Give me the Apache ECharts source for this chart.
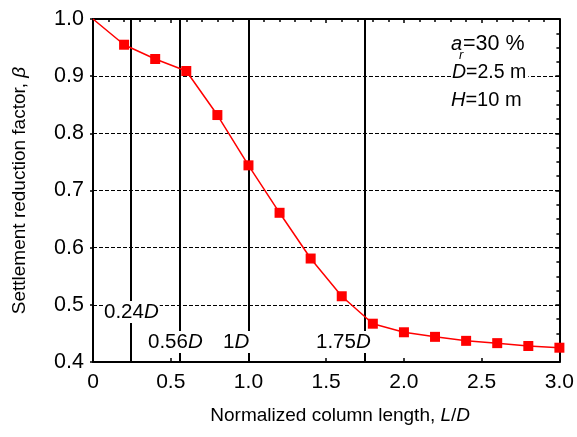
<!DOCTYPE html>
<html>
<head>
<meta charset="utf-8">
<script src="https://cdn.jsdelivr.net/npm/echarts@6/dist/echarts.min.js"></script>
<style>
html,body{margin:0;padding:0;background:#fff;}
#c{width:577px;height:437px;}
</style>
</head>
<body>
<div id="c"></div>
<script>
// ---- data ----
var xValues = [0, 0.2, 0.4, 0.6, 0.8, 1.0, 1.2, 1.4, 1.6, 1.8, 2.0, 2.2, 2.4, 2.6, 2.8, 3.0];
var betaValues = [1.0, 0.955, 0.930, 0.909, 0.832, 0.744, 0.661, 0.581, 0.515, 0.467, 0.452, 0.444, 0.437, 0.433, 0.428, 0.425];
var refLines = [0.24, 0.56, 1, 1.75];
var refLabels = ['0.24', '0.56', '1', '1.75'];
var xTicks = ['0', '0.5', '1.0', '1.5', '2.0', '2.5', '3.0'];
var yTicks = ['0.4', '0.5', '0.6', '0.7', '0.8', '0.9', '1.0'];
var paramText = { ar: '30 %', D: '2.5 m', H: '10 m' };

var FONT = 'Liberation Sans, Arial, sans-serif';
var chart = echarts.init(document.getElementById('c'), null, { renderer: 'canvas' });

var seriesData = xValues.map(function (x, i) {
  var item = { value: [x, betaValues[i]] };
  if (i === 0) item.symbol = 'none';
  return item;
});

// annotation label positions (pixels)
var refLabelPos = [[103, 312], [147, 342], [222, 342], [315, 342]];

var graphics = refLabels.map(function (t, i) {
  return {
    type: 'text', left: refLabelPos[i][0], top: refLabelPos[i][1] - 11, z: 100,
    style: {
      text: '{n|' + t + '}{i|D}',
      backgroundColor: '#fff',
      padding: [0, 1, 0, 1],
      rich: {
        n: { fontFamily: FONT, fontSize: 20.5, fill: '#000', lineHeight: 22 },
        i: { fontFamily: FONT, fontSize: 20.5, fontStyle: 'italic', fill: '#000', lineHeight: 22 }
      }
    }
  };
});

// parameter block
graphics.push(
  { type: 'text', left: 451, top: 34, z: 100, style: { text: 'a', font: 'italic 20px ' + FONT, fill: '#000', backgroundColor: '#fff' } },
  { type: 'text', left: 459, top: 49, z: 101, style: { text: 'r', font: 'italic 13px ' + FONT, fill: '#000' } },
  { type: 'text', left: 463, top: 33, z: 100, style: { text: '=' + paramText.ar, font: '21.5px ' + FONT, fill: '#000', backgroundColor: '#fff' } },
  { type: 'text', left: 451, top: 63, z: 100, style: {
      text: '{i|D}{n|=' + paramText.D + '}', backgroundColor: '#fff', padding: [0, 2, 0, 1],
      rich: { n: { fontFamily: FONT, fontSize: 19.5, fill: '#000' }, i: { fontFamily: FONT, fontSize: 19.5, fontStyle: 'italic', fill: '#000' } } } },
  { type: 'text', left: 451, top: 90, z: 100, style: {
      text: '{i|H}{n|=' + paramText.H + '}', backgroundColor: '#fff',
      rich: { n: { fontFamily: FONT, fontSize: 20, fill: '#000' }, i: { fontFamily: FONT, fontSize: 20, fontStyle: 'italic', fill: '#000' } } } }
);

var option = {
  animation: false,
  backgroundColor: '#fff',
  textStyle: { fontFamily: FONT },
  grid: { left: 93, top: 19, right: 14, bottom: 75 },
  xAxis: [{
    type: 'value', min: 0, max: 3, interval: 0.5, position: 'bottom',
    axisLine: { show: true, onZero: false, lineStyle: { color: '#000', width: 2 } },
    axisTick: { show: true, inside: true, length: 4, lineStyle: { color: '#000', width: 1.5 } },
    axisLabel: { color: '#000', fontSize: 21, fontFamily: FONT, margin: 10,
      formatter: function (v) { return xTicks[Math.round(v / 0.5)]; } },
    splitLine: { show: false },
    name: '{n|Normalized column length, }{i|L}{n|/}{i|D}',
    nameLocation: 'middle', nameGap: 44,
    nameTextStyle: { padding: [0, 0, 0, 28], rich: {
      n: { fontFamily: FONT, fontSize: 19, color: '#000' },
      i: { fontFamily: FONT, fontSize: 19, color: '#000', fontStyle: 'italic' } } }
  }, {
    type: 'value', min: 0, max: 3, interval: 0.5, position: 'top',
    axisLine: { show: true, onZero: false, lineStyle: { color: '#000', width: 2 } },
    axisTick: { show: true, inside: true, length: 4, lineStyle: { color: '#000', width: 1.5 } },
    minorTick: { show: true, splitNumber: 5, length: 3, lineStyle: { color: '#000', width: 1.5 } },
    axisLabel: { show: false }, splitLine: { show: false }
  }],
  yAxis: [{
    type: 'value', min: 0.4, max: 1.0, interval: 0.1, position: 'left',
    axisLine: { show: true, onZero: false, lineStyle: { color: '#000', width: 2 } },
    axisTick: { show: true, inside: false, length: 3, lineStyle: { color: '#000', width: 1.5 } },
    axisLabel: { color: '#000', fontSize: 21.5, fontFamily: FONT, margin: 9,
      formatter: function (v) { return yTicks[Math.round((v - 0.4) / 0.1)]; } },
    splitLine: { show: true, lineStyle: { color: '#000', width: 1, type: [4, 2] } },
    name: '{n|Settlement reduction factor, }{i|β}',
    nameLocation: 'middle', nameGap: 64,
    nameTextStyle: { rich: {
      n: { fontFamily: FONT, fontSize: 19, color: '#000' },
      i: { fontFamily: FONT, fontSize: 19, color: '#000', fontStyle: 'italic' } } }
  }, {
    type: 'value', min: 0.4, max: 1.0, interval: 0.1, position: 'right',
    axisLine: { show: true, onZero: false, lineStyle: { color: '#000', width: 2 } },
    axisTick: { show: true, inside: true, length: 4, lineStyle: { color: '#000', width: 1.5 } },
    minorTick: { show: true, splitNumber: 4, length: 3, lineStyle: { color: '#000', width: 1.5 } },
    axisLabel: { show: false }, splitLine: { show: false }
  }],
  series: [{
    type: 'line',
    data: seriesData,
    xAxisIndex: 0, yAxisIndex: 0,
    symbol: 'rect', symbolSize: 10,
    itemStyle: { color: '#ff0000' },
    lineStyle: { color: '#ff0000', width: 1.5 },
    clip: false,
    z: 5,
    markLine: {
      silent: true, symbol: 'none', animation: false,
      label: { show: false },
      lineStyle: { color: '#000', width: 2, type: 'solid' },
      data: refLines.map(function (v) { return { xAxis: v }; })
    }
  }],
  graphic: graphics
};
chart.setOption(option);
</script>
</body>
</html>
